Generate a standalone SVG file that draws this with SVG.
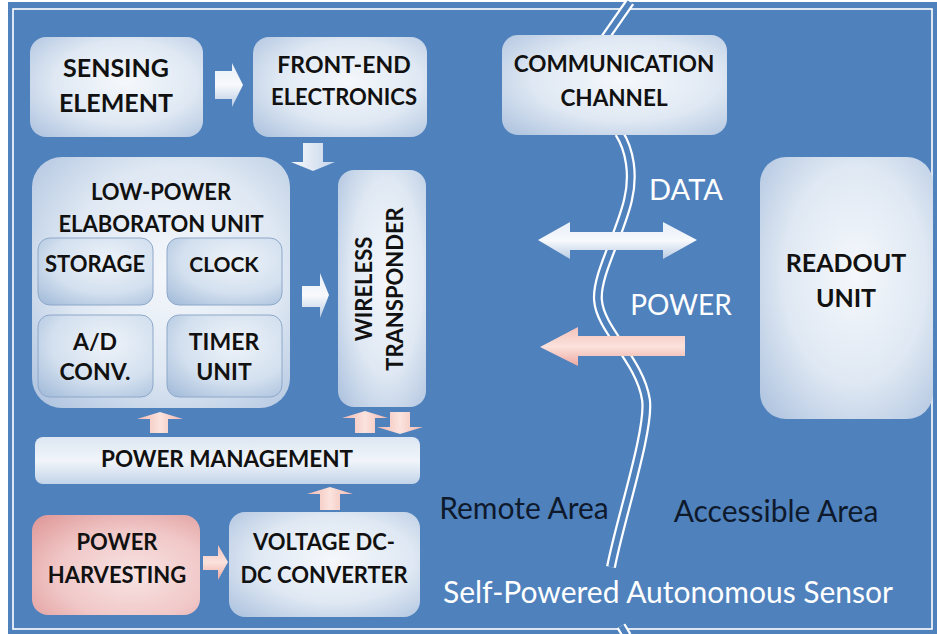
<svg xmlns="http://www.w3.org/2000/svg" width="937" height="634" viewBox="0 0 937 634">
<defs>
<radialGradient id="gBox" cx="0.55" cy="0.45" r="0.75">
<stop offset="0" stop-color="#f5f8fc"/>
<stop offset="0.55" stop-color="#dfe8f3"/>
<stop offset="1" stop-color="#aec3df"/>
</radialGradient>
<radialGradient id="gSub" cx="0.6" cy="0.35" r="0.8">
<stop offset="0" stop-color="#eef3f9"/>
<stop offset="0.6" stop-color="#d3e0ef"/>
<stop offset="1" stop-color="#a9c0dc"/>
</radialGradient>
<radialGradient id="gPink" cx="0.6" cy="0.6" r="0.8">
<stop offset="0" stop-color="#f8e3e3"/>
<stop offset="0.55" stop-color="#f1c8c8"/>
<stop offset="1" stop-color="#e09a9a"/>
</radialGradient>
<linearGradient id="gArrow" x1="0" y1="0" x2="0" y2="1">
<stop offset="0" stop-color="#e8eff8"/>
<stop offset="0.5" stop-color="#f7f9fc"/>
<stop offset="1" stop-color="#b9cce4"/>
</linearGradient>
<linearGradient id="gArrowH" x1="0" y1="0" x2="1" y2="0">
<stop offset="0" stop-color="#f7f9fc"/>
<stop offset="1" stop-color="#c5d5ea"/>
</linearGradient>
<linearGradient id="gPArrow" x1="0" y1="0" x2="1" y2="0">
<stop offset="0" stop-color="#f2b7ae"/>
<stop offset="0.5" stop-color="#fbe3de"/>
<stop offset="1" stop-color="#f2b7ae"/>
</linearGradient>
<linearGradient id="gPArrowH" x1="0" y1="0" x2="0" y2="1">
<stop offset="0" stop-color="#f4c2ba"/>
<stop offset="0.5" stop-color="#fbe2dc"/>
<stop offset="1" stop-color="#eea9a0"/>
</linearGradient>
<linearGradient id="gPM" x1="0" y1="0" x2="0" y2="1">
<stop offset="0" stop-color="#dce6f2"/>
<stop offset="0.5" stop-color="#f1f5fa"/>
<stop offset="1" stop-color="#c3d4e9"/>
</linearGradient>
</defs>
<style>
.box{fill:url(#gBox);}
.sub{fill:url(#gSub);stroke:#8ea8c9;stroke-width:1;}
.pink{fill:url(#gPink);}
.lbl{font-family:Lato,"Open Sans","Liberation Sans",sans-serif;font-weight:bold;fill:#111111;text-anchor:middle;font-size:22px;}
.wt{font-family:Lato,"Open Sans","Liberation Sans",sans-serif;fill:#ffffff;text-anchor:middle;font-size:29px;}
.dk{font-family:Lato,"Open Sans","Liberation Sans",sans-serif;fill:#0e1a2c;text-anchor:middle;font-size:30px;}
.arr{fill:url(#gArrow);}
.arrh{fill:url(#gArrowH);}
.parr{fill:url(#gPArrow);}
.parrh{fill:url(#gPArrowH);}
</style>
<rect x="0" y="0" width="937" height="634" fill="#ffffff"/>
<rect x="8" y="2" width="929" height="632" fill="#4f81bd"/>
<rect x="13" y="9" width="919" height="620" fill="none" stroke="#ffffff" stroke-width="1.6"/>

<g id="divider" fill="none">
<path d="M630,2 L605,38" stroke="#ffffff" stroke-width="10"/>
<path d="M630,2 L605,38" stroke="#4f81bd" stroke-width="5.5"/>
<path d="M619,133 C630,150 634,175 628,200 C620,235 596,275 598,300 C600,330 640,360 646,400 C650,430 620,520 611,567" stroke="#ffffff" stroke-width="10"/>
<path d="M619,133 C630,150 634,175 628,200 C620,235 596,275 598,300 C600,330 640,360 646,400 C650,430 620,520 611,567" stroke="#4f81bd" stroke-width="5.5"/>
<path d="M621,626 L627,636" stroke="#ffffff" stroke-width="10"/>
<path d="M621,626 L627,636" stroke="#4f81bd" stroke-width="5.5"/>
</g>

<g id="sensing">
<rect class="box" x="30" y="37" width="173" height="100" rx="16"/>
<text class="lbl" x="116" y="77" style="font-size:25px">SENSING</text>
<text class="lbl" x="116" y="112" style="font-size:25px">ELEMENT</text>
</g>
<g id="frontend">
<rect class="box" x="253" y="37" width="174" height="100" rx="16"/>
<text class="lbl" x="344" y="73" style="font-size:23px">FRONT-END</text>
<text class="lbl" x="344" y="105">ELECTRONICS</text>
</g>
<g id="lowpower">
<rect class="box" x="32" y="157" width="258" height="251" rx="30"/>
<text class="lbl" x="161" y="200">LOW-POWER</text>
<text class="lbl" x="161" y="232">ELABORATON UNIT</text>
</g>
<g id="storage">
<rect class="sub" x="38" y="238" width="115" height="67" rx="12"/>
<text class="lbl" x="95" y="272">STORAGE</text>
</g>
<g id="clock">
<rect class="sub" x="167" y="238" width="115" height="67" rx="12"/>
<text class="lbl" x="224" y="272" style="font-size:21px">CLOCK</text>
</g>
<g id="adconv">
<rect class="sub" x="38" y="315" width="115" height="82" rx="12"/>
<text class="lbl" x="95" y="350" style="font-size:23px">A/D</text>
<text class="lbl" x="95" y="380" style="font-size:23px">CONV.</text>
</g>
<g id="timer">
<rect class="sub" x="167" y="315" width="115" height="82" rx="12"/>
<text class="lbl" x="224" y="350" style="font-size:23px">TIMER</text>
<text class="lbl" x="224" y="380" style="font-size:23px">UNIT</text>
</g>
<g id="wireless">
<rect class="box" x="338" y="170" width="88" height="237" rx="16"/>
<text class="lbl" transform="translate(372,289) rotate(-90)">WIRELESS</text>
<text class="lbl" transform="translate(403,289) rotate(-90)">TRANSPONDER</text>
</g>
<g id="powermgmt">
<rect x="35" y="437" width="385" height="47" rx="8" fill="url(#gPM)"/>
<text class="lbl" x="227" y="467" style="font-size:22.5px">POWER MANAGEMENT</text>
</g>
<g id="harvesting">
<rect class="pink" x="32" y="515" width="168" height="100" rx="16"/>
<text class="lbl" x="117" y="550">POWER</text>
<text class="lbl" x="117" y="583">HARVESTING</text>
</g>
<g id="dcdc">
<rect class="box" x="229" y="512" width="191" height="105" rx="16"/>
<text class="lbl" x="324" y="550">VOLTAGE DC-</text>
<text class="lbl" x="324" y="583">DC CONVERTER</text>
</g>
<g id="commchannel">
<rect class="box" x="502" y="35" width="225" height="100" rx="16"/>
<text class="lbl" x="614" y="72" style="font-size:22.5px">COMMUNICATION</text>
<text class="lbl" x="614" y="106" style="font-size:22.5px">CHANNEL</text>
</g>
<g id="readout">
<rect class="box" x="760" y="157" width="173" height="262" rx="26"/>
<text class="lbl" x="846" y="272" style="font-size:25px">READOUT</text>
<text class="lbl" x="846" y="307" style="font-size:25px">UNIT</text>
</g>

<g id="connectors">
<path class="arr" d="M215,71 L232,71 L232,63 L243,85 L232,107 L232,99 L215,99 Z"/>
<path class="arrh" d="M303,143 L323,143 L323,162 L335,162 L313,171 L291,162 L303,162 Z"/>
<path class="arr" d="M302,286 L320,286 L320,273 L329,295 L320,318 L320,307 L302,307 Z"/>
<path class="parr" d="M150,433 L168,433 L168,419 L183,419 L160,412 L137,419 L150,419 Z"/>
<path class="parr" d="M355,433 L375,433 L375,418 L388,418 L365,411 L342,418 L355,418 Z"/>
<path class="parr" d="M390,412 L410,412 L410,427 L423,427 L400,434 L377,427 L390,427 Z"/>
<path class="parr" d="M320,510 L340,510 L340,494 L353,494 L330,487 L307,494 L320,494 Z"/>
<path class="parrh" d="M203,556 L218,556 L218,545 L228,562 L218,580 L218,570 L203,570 Z"/>
<path class="arr" d="M538,240 L570,222 L570,232 L663,232 L663,222 L697,240 L663,259 L663,250 L570,250 L570,259 Z"/>
<path class="parrh" d="M540,347 L578,327 L578,336 L685,336 L685,356 L578,356 L578,366 Z"/>
</g>

<g id="labels">
<text class="wt" x="686" y="200">DATA</text>
<text class="wt" x="681" y="315" style="font-size:28px">POWER</text>
<text class="dk" x="524" y="519">Remote Area</text>
<text class="dk" x="776" y="522">Accessible Area</text>
<text class="wt" x="668" y="603" style="font-size:30px">Self-Powered Autonomous Sensor</text>
</g>
</svg>
